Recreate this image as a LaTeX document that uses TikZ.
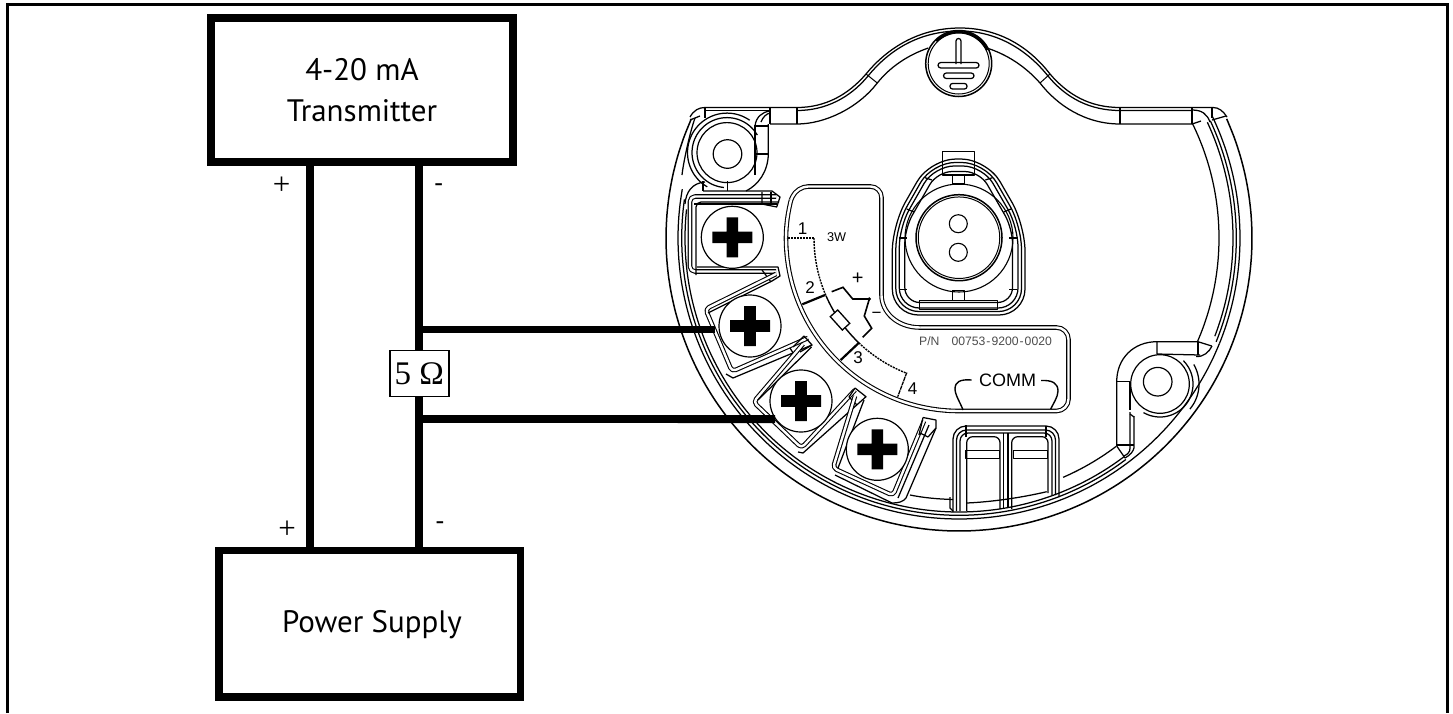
\documentclass[tikz,border=0pt]{standalone}
\usepackage{fontspec}
\setmainfont{PT Sans}
\newfontfamily\devfont{Liberation Sans}
\newfontfamily\resfont{Liberation Serif}
\tikzset{
  x=1pt,y=-1pt,
  box/.style={draw=black,line width=7.8pt,fill=white,inner sep=0pt,align=center,font=\fontsize{31}{41}\selectfont,text=black},
  wire/.style={draw=black,line width=7.8pt},
  framel/.style={draw=black,line width=3pt},
  resbox/.style={draw=black,line width=1.8pt,fill=white,inner sep=0pt,minimum width=59pt,minimum height=46pt,font=\resfont\fontsize{33}{34}\selectfont},
  signp/.style={font=\resfont\fontsize{31}{31}\selectfont,inner sep=0pt},
  signm/.style={font=\fontsize{27}{27}\selectfont,inner sep=0pt},
  dev/.style={draw=black,line width=1.25pt,line join=round},
  devt/.style={draw=black,line width=1pt,line join=round},
  dbl/.style={draw=black,line width=1.1pt,double=white,double distance=2.4pt,line join=round},
  screw/.style={circle,draw=black,line width=1.2pt,fill=white,minimum size=62pt,inner sep=0pt},
  lab/.style={font=\devfont\fontsize{17}{17}\selectfont,inner sep=0pt},
  bus/.style={draw=black,line width=2.2pt},
  dot1/.style={draw=black,line width=1.4pt,dash pattern=on 2pt off 1pt},
}
\newcommand{\arcat}[6][dev]{\draw[#1] plot[domain=#5:#6,samples=60,smooth] ({#2+#4*cos(\x)},{#3+#4*sin(\x)});}
\newcommand{\ringarc}[4][dev]{\arcat[#1]{959}{238}{#2}{#3}{#4}}
\newcommand{\conn}[2]{\draw[dev,rounded corners=#2] ({930+.578*#1},{159+#1}) -- ({987-.578*#1},{159+#1}) -- ({1025-#1},{225+.268*#1}) -- ({1025-#1},{315-#1}) -- ({892.3+#1},{315-#1}) -- ({892.3+#1},{225+.268*#1}) -- cycle;}
\newcommand{\crossat}[1]{\fill[black] ($(#1)+(-20,-5.8)$) -- ++(14.2,0) -- ++(0,-14.2) -- ++(11.6,0) -- ++(0,14.2) -- ++(14.2,0) -- ++(0,11.6) -- ++(-14.2,0) -- ++(0,14.2) -- ++(-11.6,0) -- ++(0,-14.2) -- ++(-14.2,0) -- cycle;}
\usetikzlibrary{calc}
\begin{document}
\begin{tikzpicture}
\useasboundingbox (0,0) rectangle (1453,713);
% frame
\draw[framel] (7.5,713) -- (7.5,4.6) -- (1447.5,4.6) -- (1447.5,713);

% === device body ===
% outer outline
\arcat[draw=black,line width=1.5pt]{959}{238}{293}{204}{-24}
\draw[dev] (690,117) .. controls (694,110) and (699,107.5) .. (705,107.5) -- (797,107.5)
  .. controls (825,107.5) and (848,95) .. (866,74) .. controls (884,52) and (915,28) .. (960,28)
  .. controls (1000,28) and (1030,48) .. (1050,74) .. controls (1068,95) and (1090,107.5) .. (1120,107.5)
  -- (1213,107.5) .. controls (1219,107.5) and (1223,111) .. (1227,117);
\draw[dev] (797,110.5) .. controls (825,110.5) and (850,98) .. (868,76) .. controls (886,54) and (915,31) .. (960,31)
  .. controls (998,31) and (1028,51) .. (1048,76) .. controls (1066,98) and (1090,110.5) .. (1120,110.5) -- (1192,110.5);
\draw[dev] (770,124) -- (797,124) .. controls (825,124) and (858,108) .. (877.3,83) .. controls (890,67) and (908,55) .. (928.3,48);
\draw[dev] (986.7,48) .. controls (1006,54) and (1025,66) .. (1040,83) .. controls (1057,105) and (1085,124) .. (1120,124) -- (1192,124);
\draw[devt] (866,74) -- (877.3,83);
\draw[devt] (1050,74) -- (1040,83);
\draw[dev] (797,108) -- (797,124);
\draw[dev] (1120,108) -- (1120,124);
\draw[dev] (1192,108) -- (1192,124);
\draw[dev] (1192,110) .. controls (1202,110) and (1207,114) .. (1210,122);
\draw[dev] (1192,124) -- (1201,121);
\draw[dev] (1212,108) -- (1212,118);
\draw[dev] (1212,120) -- (1226,116);

% earth screw
\node[circle,draw=black,line width=1.5pt,fill=white,minimum size=66pt,inner sep=0pt] (earth) at (958.7,63.5) {};
\node[circle,draw=black,line width=1pt,minimum size=61pt,inner sep=0pt] at (958.7,63.5) {};
\arcat[draw=black,line width=2.2pt]{958.7}{63.5}{31.5}{225}{335}
\draw[dev,rounded corners=2.5pt,fill=white] (956,64) -- (956,38.5) -- (961,38.5) -- (961,64);
\draw[dev,rounded corners=2.8pt] (938,62.5) rectangle (979,68);
\draw[dev,rounded corners=2.8pt] (943.5,73) rectangle (974,78.5);
\draw[dev,rounded corners=2.5pt] (950,83.5) rectangle (967,89);

% concentric rings
\ringarc{281}{190}{22}
\arcat{959}{238}{281}{-26}{22}
\ringarc{277.3}{53}{188}
\ringarc{274}{53}{186}
\arcat{959}{238}{277.3}{-25}{22}
\arcat{959}{238}{274}{-25}{21}
\arcat{959}{238}{260}{-26}{23.5}
\arcat{959}{238}{261}{53}{66.5}
\draw[dev] (695,118) .. controls (689,135) and (683,165) .. (682,175);

% top-left boss
\node[circle,draw=black,line width=1.2pt,minimum size=60pt,inner sep=0pt] (bossA) at (727,152.6) {};
\node[circle,draw=black,line width=1.2pt,minimum size=28.6pt,inner sep=0pt] (boltA) at (727.5,154) {};
\arcat{727}{152.6}{35}{95}{330}
\arcat{727}{152.6}{39.5}{120}{305}
\draw[dev] (705,108) -- (705,118);
\draw[dev] (705,110.5) -- (770,110.5);
\draw[dev] (770,108) -- (770,124);
\draw[dev] (755,126) .. controls (756,117) and (762,112) .. (770,111);
\draw[dev] (761,122) .. controls (763,117) and (766,114) .. (770,113);
\draw[dev] (755,126) -- (768.3,126);
\draw[dev] (755,125) -- (755,175);
\draw[dev] (768.3,124) -- (768.3,154) .. controls (768,172) and (758,185) .. (746,191);
\draw[dev] (755,154) -- (768.3,154);
\draw[dev] (690,120) -- (700,116);
\draw[dev] (703,181) -- (703,191);
\draw[dev] (727.3,181) -- (727.3,191);
\draw[dev] (705,182) .. controls (692,183) and (686,192) .. (685,204);

% right boss
\node[circle,draw=black,line width=1.2pt,minimum size=58.6pt,inner sep=0pt] (bossB) at (1160,384) {};
\node[circle,draw=black,line width=1.2pt,minimum size=28.6pt,inner sep=0pt] (boltB) at (1157.7,381.7) {};
\arcat{1160}{384}{33}{-45}{120}
\arcat{1160}{384}{39}{-30}{40}
\draw[dev] (1116.7,446) -- (1116.7,381.7) .. controls (1116.7,358) and (1134,341.7) .. (1156.7,341.7) -- (1198,341.7) -- (1211.7,346);
\draw[dev] (1157,341.7) -- (1157,354) -- (1200,355);
\draw[dev] (1198,341.7) -- (1198,355);
\draw[dev] (1196,356.5) .. controls (1204,357) and (1209,352) .. (1212,346);
\draw[dev] (1116.7,381.7) -- (1130,381.7);
\draw[dev] (1130,381.7) -- (1130,410);
\draw[dev] (1130,414) -- (1134,417);
\draw[dev] (1134,416) -- (1134,448) .. controls (1133,452) and (1130,455) .. (1125,458);
\draw[dev] (1130,412) -- (1130,448) .. controls (1130,452) and (1128,454) .. (1124,456);
\draw[dev] (1116.7,445) -- (1134,445);
\draw[dev] (1116.7,446) -- (1125,458);

% connector
\conn{0}{26}
\conn{3.5}{23}
\conn{7}{20}
\conn{12.5}{15}
\node[circle,draw=black,line width=1.1pt,minimum size=108pt,inner sep=0pt] (socketring) at (959,238) {};
\node[circle,draw=black,line width=1.5pt,fill=white,minimum size=86pt,inner sep=0pt] (socket) at (959,237.7) {};
\node[circle,draw=black,line width=1pt,minimum size=81.5pt,inner sep=0pt] at (959,237.7) {};
\node[circle,draw=black,line width=1.1pt,minimum size=18pt,inner sep=0pt] (pinA) at (958.3,223.7) {};
\node[circle,draw=black,line width=1.1pt,minimum size=18pt,inner sep=0pt] (pinB) at (958.3,252.3) {};
\draw[dev] (942.7,151.7) rectangle (974.3,175);
\draw[dev] (952.7,175) rectangle (964.3,184);
\draw[dev] (952.7,290.7) rectangle (964.3,300.7);
\draw[dev] (919.3,300.7) rectangle (997.7,309.3);
\draw[dev] (899,238) -- (907,238);
\draw[dev] (1009,238) -- (1017,238);
\draw[dev] (899,289.3) -- (907,289.3);
\draw[dev] (1009,289.3) -- (1017,289.3);
\draw[dev] (906.7,209) -- (914,212);
\draw[dev] (925,177.7) -- (932,180);
\draw[dev] (1011,209) -- (1003.7,212);
\draw[dev] (992.4,177.7) -- (985.4,180);

% inner panel
\draw[dbl] plot[domain=180:90,samples=60,smooth] ({959+173*cos(\x)},{238+173*sin(\x)});
\draw[dbl,rounded corners=12pt] (959,411) -- (1068.5,411) -- (1068.5,327.5) -- (920,327.5);
\draw[dbl] (920,327.5) .. controls (897,327.5) and (881.5,312) .. (881.5,295);
\draw[dbl,rounded corners=11pt] (881.5,295) -- (881.5,186.5) -- (797,186.5) -- (791,200);
\draw[dbl] (791,200) .. controls (788,212) and (786,225) .. (786,238);

% terminal links
\draw[dot1] (788,238) -- (814,238);
\draw[dot1] plot[domain=180:156.5,samples=30,smooth] ({959+145*cos(\x)},{238+145*sin(\x)});
\arcat[draw=black,line width=1.4pt]{959}{238}{145}{156.5}{133.7}
\draw[dot1] plot[domain=133.7:111,samples=30,smooth] ({959+145*cos(\x)},{238+145*sin(\x)});
\draw[bus] (802.3,304.3) -- (825,295);
\draw[bus] (840.7,360) -- (859,342.7);
\draw[draw=black,line width=1.3pt,dash pattern=on 4pt off .7pt] (906.7,372.7) -- (897.7,396.7);
\node[draw=black,line width=1.3pt,fill=white,minimum width=18pt,minimum height=10pt,inner sep=0pt,rotate=-48] (rload) at (840,320) {};
\draw[draw=black,line width=1.6pt] (831.7,291.7) -- (843,287.3) -- (852.7,299) -- (869.3,299) -- (864.3,316) -- (871.7,328.3) -- (862.7,337.3);
\node[circle,fill=black,minimum size=3.8pt,inner sep=0pt] (ldot) at (869.3,299) {};

% COMM brackets
\draw[draw=black,line width=1.4pt] (971.7,380) .. controls (960,379) and (955,382) .. (955,389) .. controls (955,395) and (961,404) .. (963,410);
\draw[draw=black,line width=1.4pt] (1041,380.5) .. controls (1052,380) and (1058,383) .. (1058,391) .. controls (1058,397) and (1053,404) .. (1050.7,409);

% labels
\node[lab] (n1) at (802.7,228.5) {1};
\node[lab,font=\devfont\fontsize{12.7}{13}\selectfont] (n3w) at (836.7,237.5) {3W};
\node[lab] (n2) at (810,287.5) {2};
\node[lab,font=\devfont\fontsize{20}{20}\selectfont] (nplus) at (857.7,279) {+};
\node[lab] (nminus) at (876.7,315.5) {\char"2212};
\node[lab] (n3) at (858,358) {3};
\node[lab] (n4) at (912.7,388.5) {4};
\node[lab,font=\devfont\fontsize{12.2}{13}\selectfont,text=black!70,anchor=west] (pn) at (919,340.8) {P/N\hspace{12pt}00753\hspace{1pt}-\hspace{1pt}9200\hspace{1pt}-\hspace{1pt}0020};
\node[lab,font=\devfont\fontsize{18}{18}\selectfont] (comm) at (1007.5,380) {COMM};

% pockets
\draw[dbl,rounded corners=5pt] (776,196.5) -- (690,196.5) -- (690,271.5) -- (776,271.5);
\draw[dev,rounded corners=5pt] (779,202) -- (696,202) -- (696,275);
\draw[dev] (703,191) -- (772,191) -- (780,197) -- (776.7,207) -- (762,204) -- (762,192);
\draw[dev] (771,192) -- (771,204);
\draw[dev] (694,204) -- (776.7,204);
\draw[dev] (697,267) -- (778,267) -- (780,276) -- (772,281);
\draw[dev] (762,270) -- (771,282);

\draw[dbl,rounded corners=4pt] (776,274) -- (705.5,309) -- (732,371.5) -- (808,338);
\draw[dev] (772,281) -- (708,313);
\draw[dev] (804,336) -- (812,345) -- (733,378) -- (726,374);
\draw[dev] (804,336) -- (793,347);
\draw[dev] (812,345) -- (800,352);
\draw[dev] (790,348) -- (795,356);

\draw[dbl,rounded corners=4pt] (803,344) -- (753.5,402) -- (801.5,448) -- (855,390);
\draw[dev] (811.5,347) -- (758,400);
\draw[dev] (855,388) -- (866,396.7) -- (803,453) -- (798,452);
\draw[dev] (849,397) -- (857,405);
\draw[dev] (855,388) -- (849,397);

\draw[dbl,rounded corners=4pt] (855,396) -- (833,468) -- (893,495.5) -- (924,421);
\draw[dev] (864,400) -- (838,468);
\draw[dev] (923,417.5) -- (936,420) -- (936,428) -- (906,498) .. controls (903,502) and (898,503) .. (892,503) -- (835,475);
\draw[dev] (929,425) -- (898,498);
\draw[dev] (923,417.5) -- (919,435);
\draw[dev] (936,428) -- (928,437);
\draw[dev] (920,433) -- (928,437);

% lower clips
\draw[dev,rounded corners=13pt] (953,512) -- (953,426) -- (1059,426) -- (1059,497);
\draw[dev,rounded corners=10pt] (956.5,511) -- (956.5,430) -- (1055.5,430) -- (1055.5,495);
\draw[dev,rounded corners=8pt] (960,511) -- (960,433) -- (1052,433) -- (1052,495);
\draw[dev,rounded corners=6pt] (966.7,511) -- (966.7,436.7) -- (1000,436.7) -- (1000,509);
\draw[dev,rounded corners=6pt] (1011.7,509) -- (1011.7,436.7) -- (1048,436.7) -- (1048,493);
\draw[dev] (1003.5,508) -- (1003.5,433);
\draw[dev] (1008,508) -- (1008,433);
\draw[dev] (965.7,450.7) rectangle (999.3,458.3);
\draw[dev] (1013.3,450.7) rectangle (1047.3,458.3);
\draw[dev] (966,425) -- (966,437);
\draw[dev] (1046,426) -- (1046,437);
\draw[dev] (966.7,503) .. controls (990,502) and (1020,498) .. (1046.7,491.7);
\draw[dev] (910,495) .. controls (925,498) and (938,499) .. (953,499.5);
\draw[dev] (950,497) -- (950,508) -- (953,511);

% screws
\node[screw] (s1) at (732.3,237.3) {};
\node[screw] (s2) at (750,326) {};
\node[screw] (s3) at (801,401) {};
\node[screw] (s4) at (877.3,449.3) {};
\crossat{s1}\crossat{s2}\crossat{s3}\crossat{s4}

% === schematic ===
\coordinate (tp) at (310,162);
\coordinate (pp) at (310,550);
\coordinate (tm) at (419.3,162);
\coordinate (pm) at (419.3,550);
\coordinate (j1) at (419.3,329.5);
\coordinate (j2) at (419.3,419);
\draw[wire] (tp) -- (pp);
\draw[wire] (tm) -- (pm);
\draw[wire,shorten >=3pt] (j1) -- (j1 -| s2.west);
\draw[wire] (j2) -- (s3.215);
\node[box,minimum width=302pt,minimum height=144pt] (tx) at (362,90.3) {4-20 mA\\Transmitter};
\node[box,minimum width=301.5pt,minimum height=146.5pt] (ps) at (369.7,623.7) {};
\node[font=\fontsize{31}{41}\selectfont,inner sep=0pt] (pstext) at (372,625) {Power Supply};
\node[resbox] (res) at (419.3,373.5) {5 Ω};
\node[signp] (s1p) at (281.7,186) {+};
\node[signm] (s1m) at (438.7,188) {-};
\node[signp] (s2p) at (287,529.5) {+};
\node[signm] (s2m) at (440,526.5) {-};
\end{tikzpicture}
\end{document}
